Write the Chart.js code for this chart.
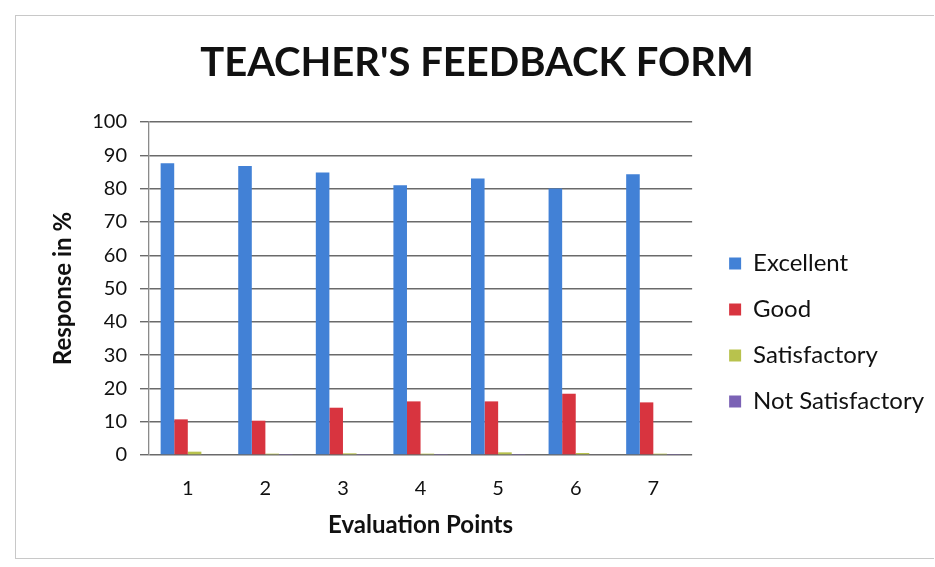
<!DOCTYPE html>
<html>
<head>
<meta charset="utf-8">
<script src="https://cdn.jsdelivr.net/npm/chart.js@4.4.1/dist/chart.umd.min.js"></script>
<style>
  html, body { margin: 0; padding: 0; background: #ffffff; }
  #wrap { position: relative; width: 935px; height: 567px; }
  #frame { position: absolute; left: 15px; top: 15px; width: 919px; height: 544px; border: 1px solid #c8c8c8; border-right: none; box-sizing: border-box; pointer-events: none; }
  canvas { position: absolute; left: 0; top: 0; }
</style>
</head>
<body>
<div id="wrap">
  <canvas id="c" width="935" height="567"></canvas>
  <div id="frame"></div>
</div>
<script>
const categories = ["1", "2", "3", "4", "5", "6", "7"];
const excellent = [87.6, 86.8, 84.8, 81.0, 83.0, 80.0, 84.3];
const good = [10.7, 10.3, 14.2, 16.1, 16.1, 18.4, 15.8];
const satisfactory = [1.0, 0.4, 0.5, 0.4, 0.8, 0.6, 0.4];
const notSatisfactory = [0.2, 0.1, 0.1, 0.1, 0.1, 0.2, 0.1];
const seriesNames = ["Excellent", "Good", "Satisfactory", "Not Satisfactory"];
const yTicks = [0, 10, 20, 30, 40, 50, 60, 70, 80, 90, 100];

const colors = ["#4281d6", "#d8343f", "#b8c24d", "#7b62b5"];
const seriesData = [excellent, good, satisfactory, notSatisfactory];

const FONT = "Lato, 'Open Sans', 'DejaVu Sans', sans-serif";

// Leaves a gap between the plot and the legend, and moves the legend column down.
const LEGEND_GAP = 15;
const LEGEND_DROP = 49;
const legendGapPlugin = {
  id: 'legendGap',
  beforeLayout(chart) {
    const lg = chart.legend;
    if (lg && !lg._gapPatched) {
      const fit = lg.fit.bind(lg);
      lg.fit = function () { fit(); this.width += LEGEND_GAP; };
      const draw = lg.draw.bind(lg);
      lg.draw = function () {
        this.left += LEGEND_GAP; this.top += LEGEND_DROP; this.bottom += LEGEND_DROP;
        draw();
        this.left -= LEGEND_GAP; this.top -= LEGEND_DROP; this.bottom -= LEGEND_DROP;
      };
      lg._gapPatched = true;
    }
  }
};

new Chart(document.getElementById('c'), {
  type: 'bar',
  data: {
    labels: categories,
    datasets: seriesNames.map((name, i) => ({
      label: name,
      data: seriesData[i],
      backgroundColor: colors[i],
      borderWidth: 0,
      barPercentage: 1.0,
      categoryPercentage: 0.7
    }))
  },
  plugins: [legendGapPlugin],
  options: {
    responsive: false,
    animation: false,
    layout: { padding: { left: 20, right: 1, top: 0, bottom: 0 } },
    plugins: {
      title: {
        display: true,
        text: "TEACHER'S FEEDBACK FORM",
        color: '#111111',
        font: { family: FONT, size: 40, weight: 'bold' },
        padding: { top: 39, bottom: 35 }
      },
      legend: {
        display: true,
        position: 'right',
        labels: {
          color: '#111111',
          font: { family: FONT, size: 24 },
          boxWidth: 12,
          boxHeight: 12,
          padding: 22
        }
      },
      tooltip: { enabled: false }
    },
    scales: {
      x: {
        afterFit: (scale) => { scale.height = 112; },
        grid: { display: false, drawTicks: false },
        border: { display: false },
        ticks: { color: '#111111', font: { family: FONT, size: 20 }, padding: 22 },
        title: {
          display: true,
          text: 'Evaluation Points',
          color: '#111111',
          font: { family: FONT, size: 24, weight: 'bold' },
          padding: { top: 6, bottom: 27 }
        }
      },
      y: {
        min: 0,
        max: 100,
        afterBuildTicks: (scale) => { scale.ticks = yTicks.map(v => ({ value: v })); },
        afterFit: (scale) => { scale.width = 129; },
        grid: { color: '#6a6a6a', lineWidth: 1.4, drawTicks: true, tickLength: 9 },
        border: { display: true, color: '#8a8a8a', width: 1.3 },
        ticks: { color: '#111111', font: { family: FONT, size: 20 }, padding: 13 },
        title: {
          display: true,
          text: 'Response in %',
          color: '#111111',
          font: { family: FONT, size: 24, weight: 'bold' },
          padding: { top: 29, bottom: 0 }
        }
      }
    }
  }
});
</script>
</body>
</html>
